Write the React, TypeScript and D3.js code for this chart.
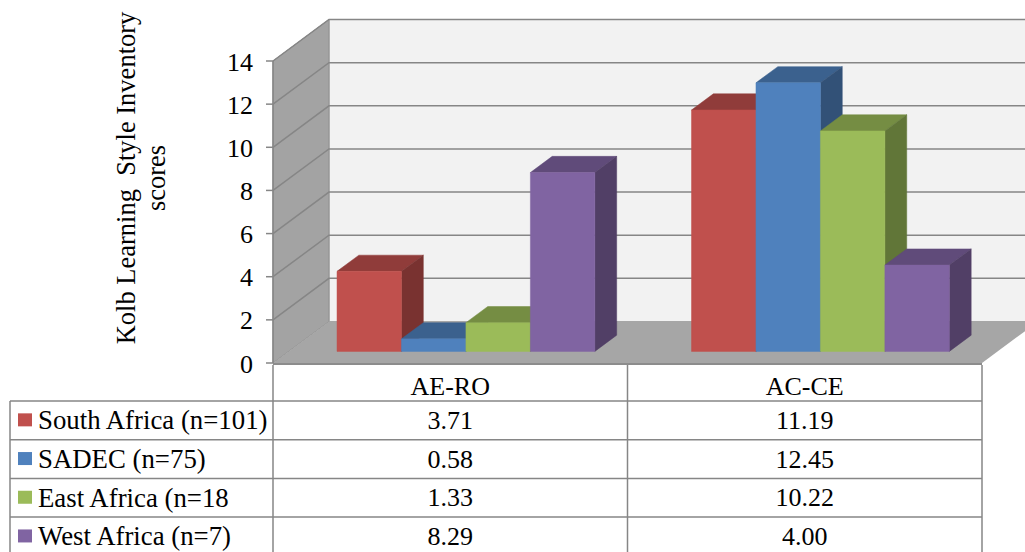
import * as d3 from 'd3';

const categories = ['AE-RO', 'AC-CE'];
const seriesNames = ['South Africa (n=101)', 'SADEC (n=75)', 'East Africa (n=18', 'West Africa (n=7)'];
const seriesColors = ['#C0504D', '#4F81BD', '#9BBB59', '#8064A2'];
const southAfrica = [3.71, 11.19];
const sadec = [0.58, 12.45];
const eastAfrica = [1.33, 10.22];
const westAfrica = [8.29, 4.0];
const yTicks = [0, 2, 4, 6, 8, 10, 12, 14];
const yTitle = ['Kolb Learning  Style Inventory', 'scores'];

const seriesValues = [southAfrica, sadec, eastAfrica, westAfrica];

const W = 1025;
const H = 552;
// front plane of the 3d box
const X0 = 273;
const X1 = 982;
const DX = 56; // depth offset
const DY = 41.5;
const D0 = 0.28; // bar depth range
const D1 = 0.67;
const FONT = '"Liberation Serif", "Times New Roman", serif';
const GRID = '#868686';
const FS = 26;

const x = d3.scaleBand<string>().domain(categories).range([X0, X1]).padding(0);
const xs = d3.scaleBand<string>().domain(seriesNames).range([0, x.bandwidth()]).paddingInner(0).paddingOuter(0.75);
const y = d3.scaleLinear().domain([0, 14]).range([363, 61]);

const proj = (xf: number, v: number, d: number): [number, number] => [xf + d * DX, y(v) - d * DY];
const poly = (pts: [number, number][]) => pts.map(p => p.join(',')).join(' ');

function Txt({ x, y, size, anchor, children }: any) {
  return (
    <text x={x} y={y} fontSize={size} fontFamily={FONT} textAnchor={anchor} dominantBaseline="central" fill="#000">
      {children}
    </text>
  );
}

export default function App() {
  const rowTop = 401;
  const rowH = 38.7;
  const tableBottom = rowTop + rowH * seriesNames.length;

  const bars: JSX.Element[] = [];
  categories.forEach((cat, ci) => {
    seriesNames.forEach((s, si) => {
      const v = seriesValues[si][ci];
      const xl = x(cat)! + xs(s)!;
      const xr = xl + xs.bandwidth();
      const c = d3.color(seriesColors[si])!;
      const top = c.darker(0.8).formatHex();
      const side = c.darker(1.3).formatHex();
      const front = c.formatHex();
      bars.push(
        <g key={cat + s}>
          <polygon points={poly([proj(xl, v, D0), proj(xr, v, D0), proj(xr, v, D1), proj(xl, v, D1)])} fill={top} stroke={top} strokeWidth={0.5} />
          <polygon points={poly([proj(xr, 0, D0), proj(xr, v, D0), proj(xr, v, D1), proj(xr, 0, D1)])} fill={side} stroke={side} strokeWidth={0.5} />
          <polygon points={poly([proj(xl, 0, D0), proj(xr, 0, D0), proj(xr, v, D0), proj(xl, v, D0)])} fill={front} stroke={front} strokeWidth={0.5} />
        </g>
      );
    });
  });

  return (
    <svg width={W} height={H} style={{ position: 'absolute', left: 0, top: 0 }}>
      <rect width={W} height={H} fill="#fff" />
      {/* walls */}
      <polygon points={poly([proj(X0, 0, 1), proj(X1, 0, 1), proj(X1, 14, 1), proj(X0, 14, 1)])} fill="#f2f2f2" stroke="#a6a6a6" strokeWidth={1} />
      <polygon points={poly([proj(X0, 0, 0), proj(X0, 14, 0), proj(X0, 14, 1), proj(X0, 0, 1)])} fill="#a3a3a3" stroke="#8f8f8f" strokeWidth={1} />
      <polygon points={poly([proj(X0, 0, 0), proj(X1, 0, 0), proj(X1, 0, 1), proj(X0, 0, 1)])} fill="#a6a6a6" />
      <line x1={X0} x2={X1} y1={y(0) + 1} y2={y(0) + 1} stroke="#8c8c8c" strokeWidth={2} />
      {/* gridlines */}
      {yTicks.filter(t => t > 0).map(t => (
        <polyline key={t} points={poly([proj(X0, t, 0), proj(X0, t, 1), proj(X1, t, 1)])} fill="none" stroke={GRID} strokeWidth={1.5} />
      ))}
      {/* axis ticks and labels */}
      <line x1={X0} x2={X0} y1={y(14)} y2={y(0)} stroke={GRID} strokeWidth={1.5} />
      {yTicks.map(t => (
        <g key={t}>
          <line x1={X0 - 7} x2={X0} y1={y(t)} y2={y(t)} stroke={GRID} strokeWidth={1.5} />
          <Txt x={253} y={y(t) + 1} size={FS} anchor="end">{t}</Txt>
        </g>
      ))}
      {/* axis title */}
      <g transform="translate(135,178) rotate(-90)">
        <text x={0} y={0} fontSize={26.5} fontFamily={FONT} textAnchor="middle" style={{ whiteSpace: 'pre' }}>{yTitle[0]}</text>
        <text x={0} y={30} fontSize={26.5} fontFamily={FONT} textAnchor="middle">{yTitle[1]}</text>
      </g>
      {bars}
      {/* data table */}
      <g stroke={GRID} strokeWidth={1.5}>
        {[X0, ...categories.map(c => x(c)! + x.bandwidth())].map((vx, i) => (
          <line key={'v' + i} x1={vx} x2={vx} y1={365} y2={tableBottom} />
        ))}
        <line x1={10} x2={10} y1={rowTop} y2={tableBottom} />
        {seriesNames.map((s, i) => (
          <line key={'h' + s} x1={10} x2={X1} y1={rowTop + i * rowH} y2={rowTop + i * rowH} />
        ))}
        <line x1={10} x2={X1} y1={tableBottom} y2={tableBottom} />
      </g>
      {categories.map(c => (
        <Txt key={c} x={x(c)! + x.bandwidth() / 2} y={386} size={FS} anchor="middle">{c}</Txt>
      ))}
      {seriesNames.map((s, si) => {
        const cy = rowTop + si * rowH + rowH / 2;
        return (
          <g key={s}>
            <rect x={18} y={cy - 7} width={14} height={13} fill={seriesColors[si]} />
            <Txt x={38} y={cy} size={26.8} anchor="start">{s}</Txt>
            {categories.map((c, ci) => (
              <Txt key={c} x={x(c)! + x.bandwidth() / 2} y={cy} size={FS} anchor="middle">{seriesValues[si][ci].toFixed(2)}</Txt>
            ))}
          </g>
        );
      })}
    </svg>
  );
}
